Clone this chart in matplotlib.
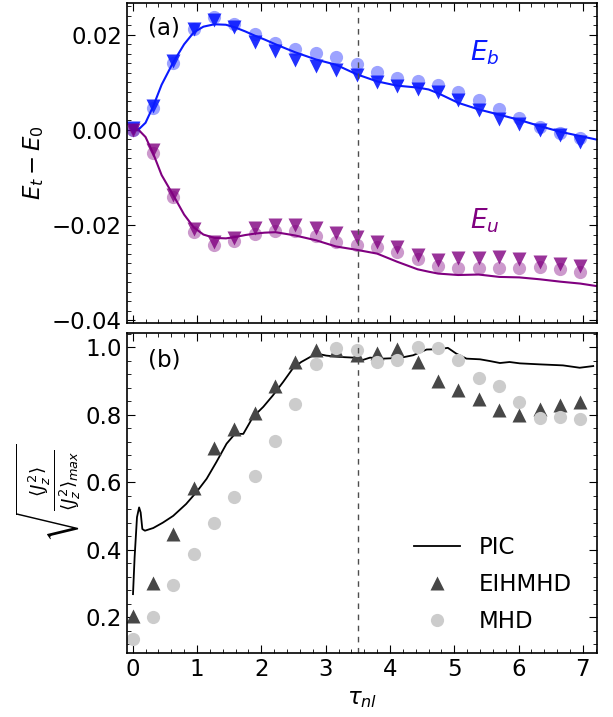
import numpy as np
import matplotlib
matplotlib.use("Agg")
import matplotlib.pyplot as plt
from matplotlib.ticker import MultipleLocator

# sample times (tau_nl) of the fluid runs
tau = [0.0, 0.32, 0.63, 0.95, 1.27, 1.58, 1.9, 2.22, 2.53, 2.85, 3.16, 3.48,
       3.8, 4.11, 4.43, 4.75, 5.06, 5.38, 5.7, 6.01, 6.33, 6.65, 6.96]

### panel (a): energies
Eb_eihmhd = [0.0004, 0.0051, 0.0144, 0.0212, 0.0230, 0.0216, 0.0184, 0.0165,
             0.0147, 0.0135, 0.0126, 0.0116, 0.0100, 0.0093, 0.0086, 0.0079,
             0.0063, 0.0042, 0.0023, 0.0013, 0.0000, -0.0011, -0.0025]
Eb_mhd = [0.0000, 0.0046, 0.0140, 0.0212, 0.0237, 0.0223, 0.0202, 0.0182,
          0.0170, 0.0161, 0.0153, 0.0139, 0.0121, 0.0109, 0.0103, 0.0095,
          0.0079, 0.0062, 0.0044, 0.0025, 0.0007, -0.0006, -0.0017]
Eu_eihmhd = [0.0000, -0.0042, -0.0137, -0.0209, -0.0235, -0.0228, -0.0207,
             -0.0200, -0.0200, -0.0207, -0.0217, -0.0226, -0.0235, -0.0247,
             -0.0263, -0.0274, -0.0270, -0.0270, -0.0268, -0.0272, -0.0277,
             -0.0281, -0.0286]
Eu_mhd = [0.0000, -0.0048, -0.0142, -0.0214, -0.0242, -0.0233, -0.0218,
          -0.0213, -0.0213, -0.0223, -0.0235, -0.0241, -0.0246, -0.0257,
          -0.0272, -0.0286, -0.0291, -0.0291, -0.0291, -0.0291, -0.0289,
          -0.0293, -0.0298]

# PIC curves
t_pic_a = [0.0, 0.1, 0.2, 0.32, 0.45, 0.63, 0.8, 0.95, 1.1, 1.27, 1.45, 1.6,
           1.75, 1.9, 2.05, 2.22, 2.4, 2.53, 2.85, 3.16, 3.48, 3.8, 4.11,
           4.43, 4.6, 4.75, 5.06, 5.38, 5.7, 6.01, 6.33, 6.65, 6.96, 7.2]
Eb_pic = [0.0, 0.0002, 0.0015, 0.005, 0.0095, 0.0142, 0.018, 0.0205, 0.0217,
          0.0222, 0.0221, 0.0215, 0.0207, 0.0198, 0.019, 0.018, 0.017, 0.0163,
          0.0148, 0.0137, 0.0117, 0.0102, 0.0093, 0.0089, 0.0085, 0.0077,
          0.0057, 0.0043, 0.0032, 0.0021, 0.0008, -0.0004, -0.0013, -0.002]
Eu_pic = [0.0, -0.0001, -0.0015, -0.005, -0.0095, -0.0137, -0.0178, -0.0205,
          -0.022, -0.0227, -0.0228, -0.0225, -0.0221, -0.0218, -0.0216,
          -0.0215, -0.0219, -0.0222, -0.0232, -0.0245, -0.0252, -0.026,
          -0.0277, -0.0293, -0.0298, -0.0302, -0.0305, -0.0304, -0.0309,
          -0.031, -0.0314, -0.0319, -0.0323, -0.0328]

### panel (b): normalised current
J_eihmhd = [0.204, 0.300, 0.446, 0.582, 0.700, 0.758, 0.805, 0.884, 0.955,
            0.991, 0.993, 0.976, 0.984, 0.996, 0.956, 0.900, 0.872, 0.845,
            0.815, 0.798, 0.818, 0.828, 0.837]
J_mhd = [0.134, 0.199, 0.295, 0.387, 0.479, 0.557, 0.619, 0.722, 0.833,
         0.949, 0.998, 0.993, 0.956, 0.963, 1.000, 0.998, 0.963, 0.910,
         0.884, 0.836, 0.790, 0.793, 0.786]

t_pic_b = [0.005, 0.03, 0.067, 0.1, 0.124, 0.15, 0.19, 0.32, 0.47, 0.63,
           0.83, 0.99, 1.15, 1.3, 1.46, 1.59, 1.72, 1.87, 2.03, 2.18, 2.34,
           2.49, 2.62, 2.78, 2.91, 3.01, 3.22, 3.43, 3.56, 3.69, 3.89, 4.15,
           4.36, 4.57, 4.77, 4.9, 5.03, 5.19, 5.4, 5.55, 5.71, 5.86, 6.02,
           6.33, 6.69, 6.95, 7.16]
J_pic = [0.268, 0.377, 0.496, 0.525, 0.51, 0.461, 0.456, 0.464, 0.48, 0.5,
         0.535, 0.57, 0.61, 0.659, 0.714, 0.743, 0.743, 0.793, 0.823, 0.857,
         0.897, 0.937, 0.956, 0.973, 0.979, 0.975, 0.971, 0.969, 0.961,
         0.969, 0.966, 0.968, 0.976, 0.993, 0.994, 0.998, 0.981, 0.966,
         0.964, 0.959, 0.953, 0.956, 0.952, 0.949, 0.946, 0.939, 0.944]

tau_mark = 3.5

### PLOTTING
plt.rcParams.update({"font.size": 16.5,
                     "xtick.direction": "in", "ytick.direction": "in",
                     "xtick.top": True, "ytick.right": True,
                     "xtick.major.size": 6, "ytick.major.size": 6,
                     "xtick.minor.size": 3, "ytick.minor.size": 3,
                     "axes.linewidth": 1.2})
fig, axs = plt.subplots(2, 1, figsize=(6.13, 7.17), dpi=100, sharex=True)
fig.subplots_adjust(left=0.207, right=0.974, top=0.996, bottom=0.089,
                    hspace=0.031)

blue = '#0a1aff'
purple = '#800080'
ms = 9.5

ax = axs[0]
ax.plot(t_pic_a, Eb_pic, '-', color=blue, lw=1.5)
ax.plot(t_pic_a, Eu_pic, '-', color=purple, lw=1.5)
ax.plot(tau, Eb_mhd, 'o', color=blue, alpha=0.4, ms=ms, mec='none')
ax.plot(tau, Eu_mhd, 'o', color=purple, alpha=0.4, ms=ms, mec='none')
ax.plot(tau, Eb_eihmhd, 'v', color=blue, ms=ms, mec='none', alpha=0.9)
ax.plot(tau, Eu_eihmhd, 'v', color=purple, ms=ms, mec='none', alpha=0.8)
ax.axvline(tau_mark, color='0.3', ls='--', lw=1, dashes=(4, 4))
ax.set_ylim(-0.0406, 0.0267)
ax.set_ylabel(r"$E_t - E_0$")
ax.yaxis.set_major_locator(MultipleLocator(0.02))
ax.yaxis.set_minor_locator(MultipleLocator(0.002))
ax.text(0.045, 0.92, "(a)", transform=ax.transAxes, va='center')
ax.text(5.24, 0.0162, r"$E_b$", color=blue, fontsize=19, va='center')
ax.text(5.24, -0.019, r"$E_u$", color=purple, fontsize=19, va='center')

ax = axs[1]
ax.plot(t_pic_b, J_pic, '-', color='k', lw=1.3, label='PIC')
ax.plot(tau, J_eihmhd, '^', color='#474747', ms=ms, mec='none',
        label='EIHMHD')
ax.plot(tau, J_mhd, 'o', color='#cccccc', ms=ms, mec='none', label='MHD')
ax.axvline(tau_mark, color='0.3', ls='--', lw=1, dashes=(4, 4))
ax.set_ylim(0.093, 1.042)
ax.yaxis.set_major_locator(MultipleLocator(0.2))
ax.yaxis.set_minor_locator(MultipleLocator(0.04))
ax.set_ylabel(r"$\sqrt{\frac{\langle J_z^2\rangle}{\langle J_z^2\rangle_{max}}}$",
              fontsize=19, labelpad=2)
ax.text(0.045, 0.916, "(b)", transform=ax.transAxes, va='center')
ax.legend(loc='lower right', frameon=False, labelspacing=0.6,
          handletextpad=0.8, bbox_to_anchor=(0.99, 0.0))

ax.set_xlim(-0.09, 7.22)
ax.xaxis.set_major_locator(MultipleLocator(1))
ax.xaxis.set_minor_locator(MultipleLocator(0.2))
ax.set_xlabel(r"$\tau_{nl}$")

plt.savefig("out.png", dpi=100)
